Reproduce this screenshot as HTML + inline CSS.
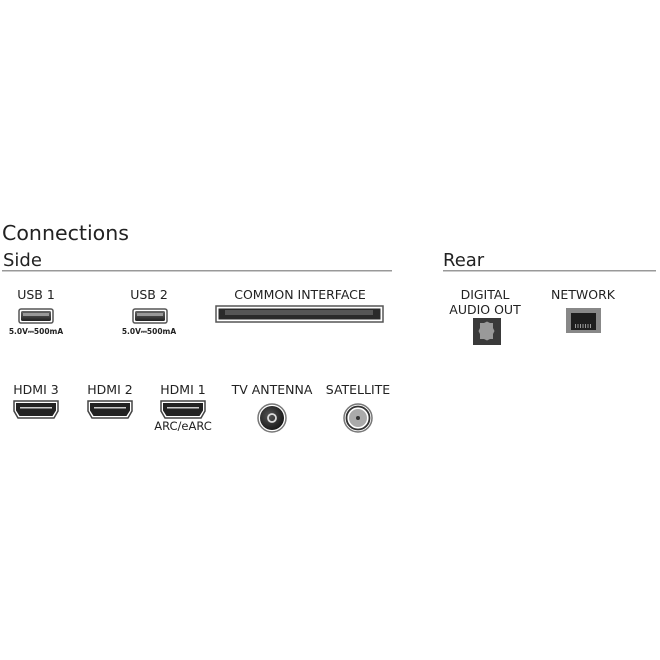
<!DOCTYPE html>
<html><head><meta charset="utf-8"><style>
html,body{margin:0;padding:0;background:#fff;width:660px;height:660px;overflow:hidden}
svg{display:block}
text{font-family:"DejaVu Sans","Liberation Sans",sans-serif;fill:#222}
</style></head><body>
<svg width="660" height="660" viewBox="0 0 660 660" xmlns="http://www.w3.org/2000/svg">
<defs>
<linearGradient id="g1" x1="0" y1="0" x2="0" y2="1"><stop offset="0" stop-color="#666"/><stop offset="1" stop-color="#222"/></linearGradient>
<radialGradient id="rg" cx="0.4" cy="0.4" r="0.7"><stop offset="0" stop-color="#555"/><stop offset="1" stop-color="#111"/></radialGradient>
</defs>
<text x="2" y="240" font-size="20" textLength="127" lengthAdjust="spacingAndGlyphs">Connections</text>
<text x="3" y="266" font-size="18">Side</text>
<rect x="2" y="270" width="390" height="1.5" fill="#999"/>
<text x="443" y="266" font-size="18">Rear</text>
<rect x="443" y="270" width="213" height="1.5" fill="#999"/>

<g font-size="12.5" text-anchor="middle">
<text x="36" y="299">USB 1</text>
<text x="149" y="299">USB 2</text>
<text x="300" y="299">COMMON INTERFACE</text>
<text x="485" y="299">DIGITAL</text>
<text x="485" y="314">AUDIO OUT</text>
<text x="583" y="299">NETWORK</text>
<text x="36" y="394">HDMI 3</text>
<text x="110" y="394">HDMI 2</text>
<text x="183" y="394">HDMI 1</text>
<text x="272" y="394">TV ANTENNA</text>
<text x="358" y="394">SATELLITE</text>
<text x="183" y="430" font-size="11.5">ARC/eARC</text>
</g>
<g font-size="7.5" font-weight="bold" text-anchor="middle">
<text x="36" y="334">5.0V⎓500mA</text>
<text x="149" y="334">5.0V⎓500mA</text>
</g>

<g>
<rect x="19" y="309" width="34" height="14" rx="2" fill="#fff" stroke="#555" stroke-width="1.5"/>
<rect x="21" y="311" width="30" height="10" rx="1.5" fill="url(#g1)"/>
<rect x="23" y="313" width="26" height="3" fill="#999"/>
<rect x="133" y="309" width="34" height="14" rx="2" fill="#fff" stroke="#555" stroke-width="1.5"/>
<rect x="135" y="311" width="30" height="10" rx="1.5" fill="url(#g1)"/>
<rect x="137" y="313" width="26" height="3" fill="#999"/>
</g>
<rect x="216" y="306" width="167" height="16" fill="#fff" stroke="#555" stroke-width="1.5"/>
<rect x="218.5" y="308.5" width="162" height="11" fill="#2a2a2a"/>
<rect x="225" y="310" width="148" height="5" fill="#555"/>

<g id="h">
<path d="M14 401 H58 V411 L54 418 H18 L14 411 Z" fill="#fff" stroke="#444" stroke-width="1.5"/>
<path d="M16 403 H56 V410.5 L52.5 416 H19.5 L16 410.5 Z" fill="#222"/>
<rect x="20" y="407" width="32" height="1.5" fill="#ccc"/>
</g>
<use href="#h" x="74"/>
<use href="#h" x="147"/>

<circle cx="272" cy="418" r="14" fill="#fff" stroke="#777" stroke-width="1.5"/>
<circle cx="272" cy="418" r="12" fill="url(#rg)"/>
<circle cx="272" cy="418" r="4" fill="none" stroke="#ddd" stroke-width="1.8"/>
<circle cx="358" cy="418" r="14" fill="#fff" stroke="#777" stroke-width="1.5"/>
<circle cx="358" cy="418" r="11.5" fill="none" stroke="#333" stroke-width="1.8"/>
<circle cx="358" cy="418" r="9" fill="#aaa"/>
<circle cx="358" cy="418" r="2" fill="#333"/>

<rect x="473" y="318" width="28" height="27" fill="#3a3a3a"/>
<path d="M480 323 h4 l3 -1.5 l3 1.5 h3 v5 l1.5 3 -1.5 3 v5 h-3 l-3 1.5 -3 -1.5 h-4 v-5 l-1.5 -3 1.5 -3 Z" fill="#999"/>
<rect x="566" y="308" width="35" height="25" fill="#888"/>
<path d="M571 313 h25 v17 h-25 Z" fill="#1e1e1e"/>
<g fill="#999"><rect x="575" y="324" width="1" height="4"/><rect x="577.5" y="324" width="1" height="4"/><rect x="580" y="324" width="1" height="4"/><rect x="582.5" y="324" width="1" height="4"/><rect x="585" y="324" width="1" height="4"/><rect x="587.5" y="324" width="1" height="4"/><rect x="590" y="324" width="1" height="4"/></g>
</svg>
</body></html>
